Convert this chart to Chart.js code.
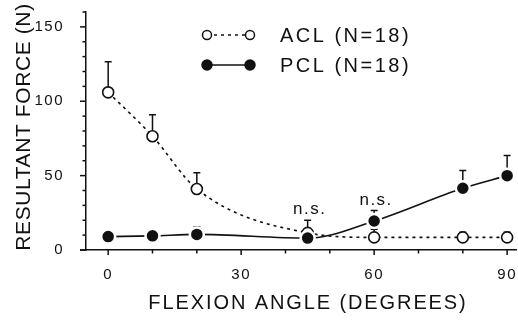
<!DOCTYPE html>
<html>
<head>
<meta charset="utf-8">
<script src="https://cdn.jsdelivr.net/npm/chart.js@4/dist/chart.umd.min.js"></script>
<style>
  html, body { margin: 0; padding: 0; background: #fff; overflow: hidden; }
  canvas { display: block; }
</style>
</head>
<body>
<canvas id="chart" width="518" height="320"></canvas>
<script>
// Knee flexion angle (degrees) at which the ligament force was measured
const angles = [0, 10, 20, 45, 60, 80, 90];

// Mean resultant force (N) and +1 SD for each ligament
const aclForce = [106, 76.5, 41, 11.5, 8.5, 8.5, 8.5];
const aclSD    = [20.5, 14.5, 11, 8.5, 5.5, 3.5, 3.5];
const pclForce = [9, 9.5, 10.5, 8, 19.5, 41.5, 50];
const pclSD    = [1, 4, 5, 2, 7, 12, 13.5];

const seriesNames = ['ACL (N=18)', 'PCL (N=18)'];

// Axis labels
const xTicks = [0, 30, 60, 90];
const yTicks = [0, 50, 100, 150];
const xTitle = 'FLEXION ANGLE (DEGREES)';
const yTitle = 'RESULTANT FORCE (N)';

// Angles where the ACL/PCL difference is not significant
const nsAngles = [45, 60];
const nsLabel = 'n.s.';

const INK = '#111';
const FONT = '"Liberation Sans", Arial, sans-serif';

const toPoints = (xs, ys) => xs.map((x, i) => ({ x, y: ys[i] }));
const errors = [aclSD, pclSD];
const noPadding = () => ({ left: 0, top: 0, right: 0, bottom: 0 });

// Wider letter spacing for the tick labels
const spacing = {
  id: 'spacing',
  beforeDraw(chart) { chart.ctx.letterSpacing = '1.5px'; }
};

// Upward error bars with caps, drawn under the markers
const errorBars = {
  id: 'errorBars',
  beforeDatasetsDraw(chart) {
    const { ctx, scales: { x, y } } = chart;
    ctx.save();
    ctx.strokeStyle = INK;
    ctx.lineWidth = 1.5;
    chart.data.datasets.forEach((ds, di) => {
      ds.data.forEach((p, i) => {
        const px = x.getPixelForValue(p.x);
        const y0 = y.getPixelForValue(p.y);
        const y1 = y.getPixelForValue(p.y + errors[di][i]);
        ctx.beginPath();
        ctx.moveTo(px, y0);
        ctx.lineTo(px, y1);
        ctx.moveTo(px - 3.5, y1);
        ctx.lineTo(px + 3.5, y1);
        ctx.stroke();
      });
    });
    ctx.restore();
  }
};

// Axis tick marks, titles, legend and significance labels
const decorations = {
  id: 'decorations',
  afterDraw(chart) {
    const { ctx, chartArea: a, scales: { x, y } } = chart;
    ctx.save();
    ctx.strokeStyle = INK;
    ctx.fillStyle = INK;
    ctx.lineWidth = 1.5;

    // extend x axis a little left of the y axis
    ctx.beginPath();
    ctx.moveTo(a.left - 6, a.bottom);
    ctx.lineTo(a.left, a.bottom);
    ctx.stroke();

    // x tick marks every 10 degrees
    for (let v = 0; v <= 90; v += 10) {
      const px = x.getPixelForValue(v);
      const len = v % 30 === 0 ? 5 : 3.5;
      ctx.beginPath();
      ctx.moveTo(px, a.bottom);
      ctx.lineTo(px, a.bottom + len);
      ctx.stroke();
    }
    // y tick marks every 10 N
    for (let v = 0; v <= 160; v += 10) {
      const py = y.getPixelForValue(v);
      const len = v % 50 === 0 ? 6 : 3.5;
      ctx.beginPath();
      ctx.moveTo(a.left, py);
      ctx.lineTo(a.left - len, py);
      ctx.stroke();
    }

    // axis titles
    ctx.textBaseline = 'middle';
    ctx.textAlign = 'center';
    ctx.font = '20px ' + FONT;
    ctx.letterSpacing = '1.9px';
    ctx.fillText(xTitle, 308, 303);
    ctx.save();
    ctx.translate(24, 127);
    ctx.rotate(-Math.PI / 2);
    ctx.font = '21px ' + FONT;
    ctx.letterSpacing = '0.6px';
    ctx.fillText(yTitle, 0, 0);
    ctx.restore();

    // legend
    const legendRows = [35, 65];
    chart.data.datasets.forEach((ds, i) => {
      const ly = legendRows[i];
      ctx.save();
      ctx.lineWidth = ds.borderWidth;
      ctx.setLineDash(ds.borderDash || []);
      ctx.beginPath();
      ctx.moveTo(207, ly);
      ctx.lineTo(250, ly);
      ctx.stroke();
      ctx.setLineDash([]);
      [207, 250].forEach(cx => {
        ctx.beginPath();
        ctx.arc(cx, ly, i === 0 ? 4.5 : 5, 0, Math.PI * 2);
        ctx.fillStyle = i === 0 ? '#fff' : INK;
        ctx.fill();
        ctx.lineWidth = 1.5;
        ctx.stroke();
      });
      ctx.restore();
      ctx.textAlign = 'left';
      ctx.font = '20px ' + FONT;
      ctx.letterSpacing = '2.5px';
      ctx.fillText(ds.label, 280, ly + 1);
    });

    // n.s. labels above the higher error bar at each angle
    ctx.textAlign = 'center';
    ctx.textBaseline = 'alphabetic';
    ctx.font = '17px ' + FONT;
    ctx.letterSpacing = '1.5px';
    nsAngles.forEach(ang => {
      const i = angles.indexOf(ang);
      const top = Math.max(aclForce[i] + aclSD[i], pclForce[i] + pclSD[i]);
      ctx.fillText(nsLabel, x.getPixelForValue(ang) + 2, y.getPixelForValue(top) - 6);
    });
    ctx.restore();
  }
};

new Chart(document.getElementById('chart'), {
  type: 'line',
  data: {
    datasets: [
      {
        label: seriesNames[0],
        data: toPoints(angles, aclForce),
        borderColor: INK,
        borderWidth: 1.6,
        borderDash: [3, 4],
        cubicInterpolationMode: 'monotone',
        pointRadius: 5.5,
        pointBackgroundColor: '#fff',
        pointBorderColor: INK,
        pointBorderWidth: 1.6,
        order: 1
      },
      {
        label: seriesNames[1],
        data: toPoints(angles, pclForce),
        borderColor: INK,
        borderWidth: 1.6,
        cubicInterpolationMode: 'monotone',
        pointRadius: 7,
        pointBackgroundColor: INK,
        pointBorderColor: '#fff',
        pointBorderWidth: 2.5,
        order: 0
      }
    ]
  },
  options: {
    responsive: false,
    animation: false,
    events: [],
    layout: { autoPadding: false, padding: { top: 12, right: 2, left: 0, bottom: 0 } },
    plugins: { legend: { display: false }, tooltip: { enabled: false } },
    scales: {
      x: {
        type: 'linear',
        min: -5,
        max: 92,
        grid: { display: false },
        border: { display: true, color: INK, width: 1.5 },
        afterBuildTicks: s => { s.ticks = xTicks.map(v => ({ value: v })); },
        afterFit: s => {
          s.height = 70;
          s.paddingLeft = 0; s.paddingRight = 0;
          s.getPadding = noPadding;
        },
        ticks: { color: INK, padding: 8, font: { family: FONT, size: 15 }, maxRotation: 0 }
      },
      y: {
        min: 0,
        max: 160,
        grid: { display: false },
        border: { display: true, color: INK, width: 1.5 },
        afterBuildTicks: s => { s.ticks = yTicks.map(v => ({ value: v })); },
        afterFit: s => {
          s.width = 86;
          s.paddingTop = 0; s.paddingBottom = 0;
          s.getPadding = noPadding;
        },
        ticks: { color: INK, padding: 14, font: { family: FONT, size: 15 } }
      }
    }
  },
  plugins: [spacing, errorBars, decorations]
});
</script>
</body>
</html>
